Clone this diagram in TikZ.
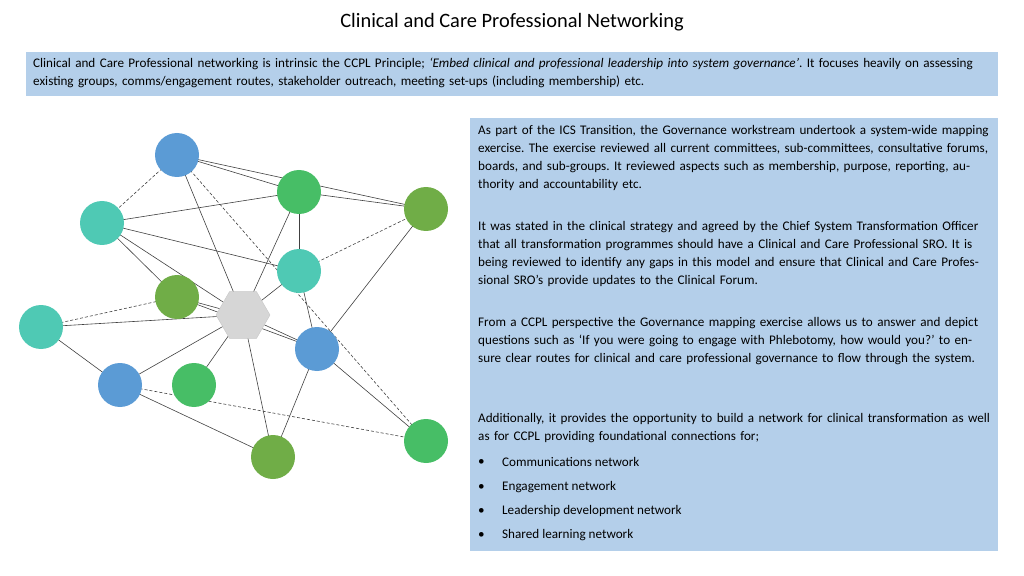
\documentclass[tikz,border=0pt]{standalone}
\usepackage{fontspec}
\setmainfont{Carlito}
\usetikzlibrary{shapes.geometric}
\pgfdeclarelayer{bg}\pgfsetlayers{bg,main}
\frenchspacing
\begin{document}
\begin{tikzpicture}[x=1bp,y=-1bp,
  nd/.style={circle,minimum size=44bp,inner sep=0},
  blu/.style={nd,fill=bl},grn/.style={nd,fill=gr},tea/.style={nd,fill=te},oli/.style={nd,fill=ol},
  ed/.style={draw=black!75,line width=0.6bp},
  da/.style={ed,dash pattern=on 3bp off 2bp},
  txt/.style={anchor=north west,inner sep=0,align=left,font=\fontsize{13.2}{18}\selectfont}]
\definecolor{bl}{HTML}{5B9BD5}\definecolor{gr}{HTML}{47BE66}\definecolor{te}{HTML}{4FC9B4}
\definecolor{ol}{HTML}{70AD47}\definecolor{pan}{HTML}{B4CFEA}
\useasboundingbox (0,0) rectangle (1024,576);
\node (title) at (512,22) {\fontsize{20.5}{24}\selectfont Clinical and Care Professional Networking};
\node[fill=pan,minimum width=972bp,minimum height=44bp,anchor=north west] (ban) at (26,52) {};
\node[txt,text width=965bp] (bt) at (33,58) {\raggedright Clinical and Care Professional networking is intrinsic the CCPL Principle; \emph{‘Embed clinical and professional leadership into system governance’}. It focuses heavily on assessing existing groups, comms/engagement routes, stakeholder outreach, meeting set-ups (including membership) etc.};
\node[fill=pan,minimum width=528bp,minimum height=433bp,anchor=north west] (pn) at (470,118) {};
\node[txt,text width=512bp] (p1) at (478,125) {\raggedright As part of the ICS Transition, the Governance workstream undertook a system-wide mapping exercise. The exercise reviewed all current committees, sub-committees, consultative forums, boards, and sub-groups. It reviewed aspects such as membership, purpose, reporting, authority and accountability etc.};
\node[txt,text width=512bp] (p2) at (478,221) {\raggedright It was stated in the clinical strategy and agreed by the Chief System Transformation Officer that all transformation programmes should have a Clinical and Care Professional SRO. It is being reviewed to identify any gaps in this model and ensure that Clinical and Care Professional SRO’s provide updates to the Clinical Forum.};
\node[txt,text width=512bp] (p3) at (478,317) {\raggedright From a CCPL perspective the Governance mapping exercise allows us to answer and depict questions such as ‘If you were going to engage with Phlebotomy, how would you?’ to ensure clear routes for clinical and care professional governance to flow through the system.};
\node[txt,text width=512bp] (p4) at (478,413) {\raggedright Additionally, it provides the opportunity to build a network for clinical transformation as well as for CCPL providing foundational connections for;};
\foreach \t/\y [count=\i] in {Communications network/462,Engagement network/487,Leadership development network/511,Shared learning network/535}{
  \node[txt,anchor=west] (bu\i) at (478,\y) {•};
  \node[txt,anchor=west] (bl\i) at (502,\y) {\t};}
% network
\node[blu] (A) at (177,155) {};
\node[grn] (B) at (299,192) {};
\node[oli] (C) at (426,209) {};
\node[tea] (D) at (102,223) {};
\node[tea] (E) at (299,271) {};
\node[oli] (F) at (177,297) {};
\node[tea] (G) at (41,327) {};
\node[regular polygon,regular polygon sides=6,minimum size=54bp,inner sep=0,fill=black!16,draw=black!22] (H) at (243,315) {};
\node[blu] (I) at (317,349) {};
\node[blu] (J) at (120,385) {};
\node[grn] (K) at (194,385) {};
\node[oli] (L) at (273,457) {};
\node[grn] (M) at (426,441) {};
\begin{pgfonlayer}{bg}
\foreach \a/\b in {A/B,A/C,B/C,A/H,D/B,D/E,D/H,D/F,B/H,B/E,E/H,E/I,C/I,F/H,F/I,G/H,G/J,J/H,J/L,K/H,H/L,H/I,I/L,I/M}
  \draw[ed] (\a.center) -- (\b.center);
\foreach \a/\b in {A/D,A/M,E/C,G/F,J/M}
  \draw[da] (\a.center) -- (\b.center);
\end{pgfonlayer}
\end{tikzpicture}
\end{document}
